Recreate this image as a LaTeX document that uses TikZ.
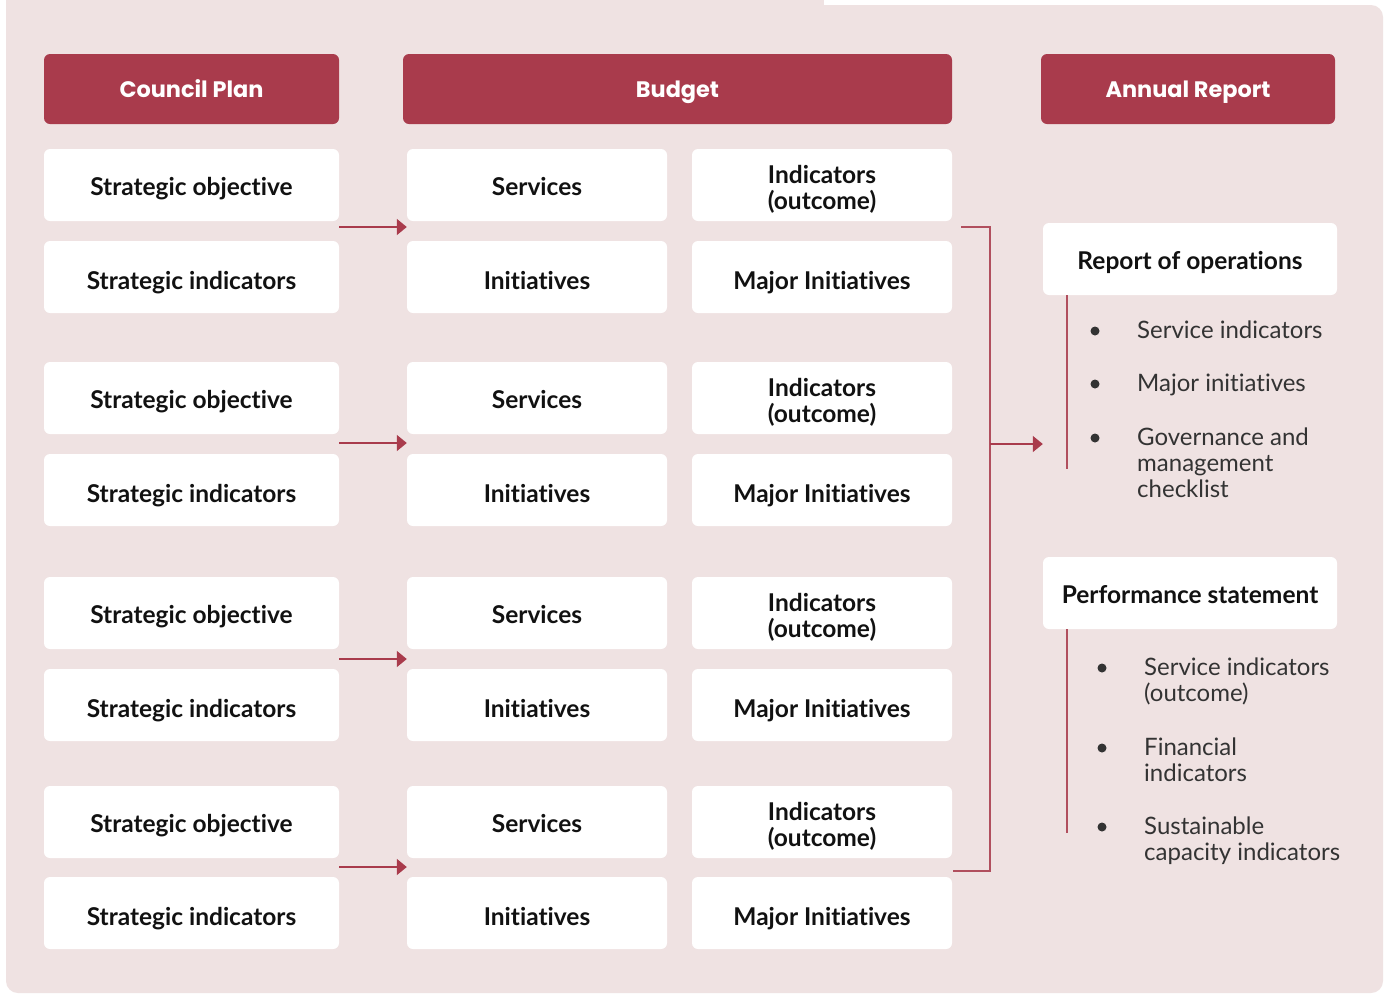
\documentclass[tikz,border=0pt]{standalone}
\usepackage{fontspec}
\setmainfont{Lato}[Ligatures=NoCommon]
\newfontfamily\hdrfont{Poppins}
\usetikzlibrary{arrows.meta}
\definecolor{pinkbg}{RGB}{239,226,226}
\definecolor{plum}{RGB}{169,59,76}
\definecolor{ink}{RGB}{17,17,17}
\definecolor{grey}{RGB}{51,51,51}
\tikzset{
  hdr/.style={fill=plum, rounded corners=6pt, minimum height=70pt, inner sep=0pt,
    text height=17.6pt, text depth=0pt,
    text=white, font=\hdrfont\bfseries\fontsize{22.4}{26}\selectfont},
  cell/.style={fill=white, rounded corners=6pt, minimum height=72pt, inner sep=0pt,
    align=center, text=ink, font=\bfseries\fontsize{24.5}{26}\selectfont},
  one/.style={text height=21pt, text depth=0pt},
  low/.style={text height=25pt, text depth=0pt},
  two/.style={text height=49pt, text depth=0pt},
  wide/.style={cell, minimum width=295pt},
  narrow/.style={cell, minimum width=260pt},
  item/.style={anchor=west, align=left, inner sep=0pt, text=grey,
    font=\fontsize{24}{26}\selectfont},
  dot/.style={circle, fill=grey, minimum size=9pt, inner sep=0pt},
  flow/.style={plum, line width=1.6pt, -{Triangle[length=10pt,width=16pt]}},
  rule/.style={plum!90!white, line width=1.5pt},
}
\begin{document}
\begin{tikzpicture}[x=1pt, y=-1pt]
\useasboundingbox (0,0) rectangle (1389,994);
\fill[white] (0,0) rectangle (1389,994);
% panel
\fill[pinkbg, rounded corners=12pt] (6,5) rectangle (1383,993);
\fill[pinkbg] (6,0) rectangle (824,30);

% headers
\node[hdr, minimum width=295pt] (cp) at (191.5,89) {Council Plan};
\node[hdr, minimum width=549pt] (bu) at (677.5,89) {Budget};
\node[hdr, minimum width=294pt] (ar) at (1188,89) {Annual Report};

% four groups of plan / budget rows
\foreach \g/\ya/\yb in {1/185/277, 2/398/490, 3/613/705, 4/822/913} {
  \node[wide, one]   (so\g) at (191.5,\ya) {Strategic objective};
  \node[wide, low]   (si\g) at (191.5,\yb) {Strategic indicators};
  \node[narrow, one] (sv\g) at (537,\ya) {Services};
  \node[narrow, low] (in\g) at (537,\yb) {Initiatives};
  \node[narrow, two] (oc\g) at (822,\ya) {Indicators\\(outcome)};
  \node[narrow, low] (mi\g) at (822,\yb) {Major Initiatives};
}

% links from the council plan to the budget
\coordinate (g1) at (0,227);
\coordinate (g2) at (0,443);
\coordinate (g3) at (0,659);
\coordinate (g4) at (0,867);
\foreach \g in {1,2,3,4}
  \draw[flow] (so\g.east |- g\g) -- (sv\g.west |- g\g);

% annual report sections
\node[cell, one, minimum width=294pt] (ro) at (1190,259) {Report of operations};
\node[cell, one, minimum width=294pt] (ps) at (1190,593) {Performance statement};

% bracket gathering the budget into the annual report
\coordinate (bt) at (961,227);
\coordinate (bb) at (953,871);
\coordinate (bx) at (990,444);
\draw[rule] (bt) -- (bx |- bt) -- (bx |- bb) -- (bb);
\draw[flow, line width=1.5pt] (bx) -- (ro.west |- bx);

% report of operations list
\coordinate (v1) at (1067,469);
\draw[rule] (ro.south -| v1) -- (v1);
\node[dot] (d1) at (1095,331) {};
\node[dot] (d2) at (1095,384) {};
\node[dot] (d3) at (1095,438) {};
\node[item] (t1) at (1137,330) {Service indicators};
\node[item] (t2) at (1137,385) {Major initiatives};
\node[item] (t3) at (1137,463) {Governance and\\management\\checklist};

% performance statement list
\coordinate (v2) at (1067,833);
\draw[rule] (ps.south -| v2) -- (v2);
\node[dot] (e1) at (1102,668) {};
\node[dot] (e2) at (1102,748) {};
\node[dot] (e3) at (1102,827) {};
\node[item] (u1) at (1144,681) {Service indicators\\(outcome)};
\node[item] (u2) at (1144,760) {Financial\\indicators};
\node[item] (u3) at (1144,841) {Sustainable\\capacity indicators};
\end{tikzpicture}
\end{document}
